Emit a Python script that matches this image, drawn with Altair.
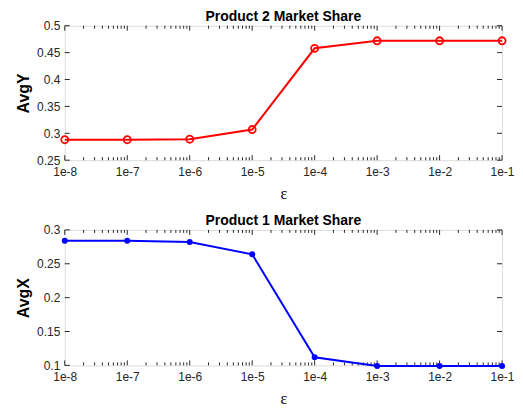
import altair as alt
import pandas as pd

eps = [1e-8, 1e-7, 1e-6, 1e-5, 1e-4, 1e-3, 1e-2, 1e-1]
avg_y = [0.288, 0.288, 0.289, 0.307, 0.458, 0.472, 0.472, 0.472]
avg_x = [0.284, 0.284, 0.282, 0.264, 0.112, 0.099, 0.099, 0.099]
y_ticks_top = [0.25, 0.3, 0.35, 0.4, 0.45, 0.5]
y_ticks_bot = [0.1, 0.15, 0.2, 0.25, 0.3]
minor_ticks = [m * 10.0 ** k for k in range(-8, -1) for m in range(2, 10)]

W = 439
FONT = "Liberation Sans"
AXC = "#262626"


def panel(values, yticks, ydomain, color, filled, title, ytitle, h):
    df = pd.DataFrame({"eps": eps, "v": values})
    xs = alt.Scale(type="log", domain=[1e-8, 1e-1], nice=False)
    ys = alt.Scale(domain=ydomain, nice=False, zero=False)
    x_axis = alt.Axis(
        values=eps, format=".0e", ticks=False, domain=False, grid=False,
        labelFont=FONT, labelFontSize=12, labelColor=AXC,
        title="ε", titleFont="Liberation Serif", titleFontSize=16,
        titleFontWeight="normal", titleColor="#000000", titlePadding=8,
        labelPadding=6, labelFlush=False,
    )
    y_axis = alt.Axis(
        values=yticks, format=".2~f", ticks=False, domain=False, grid=False,
        labelFont=FONT, labelFontSize=12, labelColor=AXC,
        title=ytitle, titleFont=FONT, titleFontSize=16, titleFontWeight="bold",
        titleColor="#000000", titlePadding=5, labelPadding=5,
    )
    x = alt.X("eps:Q", scale=xs, axis=x_axis)
    y = alt.Y("v:Q", scale=ys, axis=y_axis)
    line = alt.Chart(df).mark_line(color=color, strokeWidth=2).encode(x=x, y=y)
    pts = alt.Chart(df).mark_point(
        color=color, filled=filled, size=50 if not filled else 36,
        strokeWidth=1.8, opacity=1,
    ).encode(x=x, y=y)

    xt = pd.DataFrame({"t": eps})
    xm = pd.DataFrame({"t": minor_ticks})
    yt = pd.DataFrame({"t": yticks})
    xenc = alt.X("t:Q", scale=xs, axis=x_axis)
    yenc = alt.Y("t:Q", scale=ys, axis=y_axis)
    tick_style = dict(color=AXC, strokeWidth=1)
    layers = [
        alt.Chart(xt).mark_rule(**tick_style).encode(x=xenc, y=alt.value(h), y2=alt.value(h - 5)),
        alt.Chart(xt).mark_rule(**tick_style).encode(x=xenc, y=alt.value(0), y2=alt.value(5)),
        alt.Chart(xm).mark_rule(**tick_style).encode(x=xenc, y=alt.value(h), y2=alt.value(h - 3)),
        alt.Chart(xm).mark_rule(**tick_style).encode(x=xenc, y=alt.value(0), y2=alt.value(3)),
        alt.Chart(yt).mark_rule(**tick_style).encode(y=yenc, x=alt.value(0), x2=alt.value(5)),
        alt.Chart(yt).mark_rule(**tick_style).encode(y=yenc, x=alt.value(W), x2=alt.value(W - 5)),
    ]
    return alt.layer(*layers, line, pts).properties(
        width=W, height=h,
        title=alt.Title(title, font=FONT, fontSize=14, fontWeight="bold",
                        color="#000000", offset=-4),
    )


top = panel(avg_y, y_ticks_top, [0.25, 0.5], "#ff0000", False,
            "Product 2 Market Share", "AvgY", 135)
bot = panel(avg_x, y_ticks_bot, [0.1, 0.3], "#0000ff", True,
            "Product 1 Market Share", "AvgX", 136)

chart = alt.vconcat(top, bot, spacing=11).properties(
    padding={"left": 7, "top": 0, "right": 0, "bottom": 0}
).configure_view(
    stroke=AXC, strokeWidth=1
).configure(background="white")

chart.save("out.html", embed_options={"renderer": "svg", "actions": False})
